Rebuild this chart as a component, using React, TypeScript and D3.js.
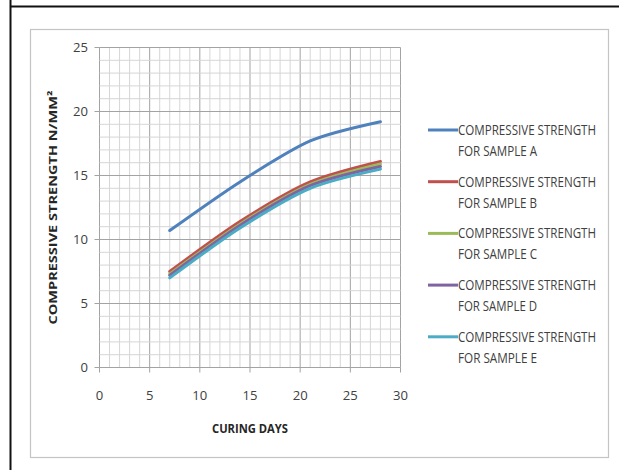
import React from 'react';
import * as d3 from 'd3';

const curingDays = [7, 14, 21, 28];
const sampleA = [10.7, 14.5, 17.7, 19.2];
const sampleB = [7.5, 11.4, 14.5, 16.1];
const sampleC = [7.3, 11.2, 14.3, 15.9];
const sampleD = [7.2, 11.1, 14.2, 15.7];
const sampleE = [7.0, 10.9, 14.0, 15.5];

const seriesNames = [
  'FOR SAMPLE A',
  'FOR SAMPLE B',
  'FOR SAMPLE C',
  'FOR SAMPLE D',
  'FOR SAMPLE E',
];
const seriesValues = [sampleA, sampleB, sampleC, sampleD, sampleE];
const seriesColors = ['#4f81bd', '#c0504d', '#9bbb59', '#8064a2', '#4bacc6'];

const xTicks = [0, 5, 10, 15, 20, 25, 30];
const yTicks = [0, 5, 10, 15, 20, 25];

const W = 619;
const H = 470;
const plot = { left: 99.5, right: 400.5, top: 47.5, bottom: 367.5 };
const tickFont = '"Open Sans", "DejaVu Sans", sans-serif';
const squeeze = 0.75; // narrow the legend glyphs horizontally

export default function App() {
  const x = d3.scaleLinear().domain([0, 30]).range([plot.left, plot.right]);
  const y = d3.scaleLinear().domain([0, 25]).range([plot.bottom, plot.top]);

  const line = d3
    .line<[number, number]>()
    .x((d) => x(d[0]))
    .y((d) => y(d[1]))
    .curve(d3.curveCardinal.tension(0.2));

  // minor grid every unit, major every 5
  const xMinor = d3.range(0, 31, 1);
  const yMinor = d3.range(0, 26, 1);

  return (
    <svg
      width={W}
      height={H}
      style={{ position: 'absolute', left: 0, top: 0, background: '#fff' }}
    >
      {/* page rules */}
      <line x1={10.5} x2={10.5} y1={0} y2={H} stroke="#111" strokeWidth={2} />
      <line x1={10} x2={W} y1={6.5} y2={6.5} stroke="#111" strokeWidth={2} />

      {/* chart frame */}
      <rect x={30.5} y={29.5} width={578} height={428} fill="#fff" stroke="#c4c4c4" strokeWidth={1.2} />

      {/* grid */}
      <g>
        {xMinor.map((v) => (
          <line
            key={'xm' + v}
            x1={x(v)}
            x2={x(v)}
            y1={plot.top}
            y2={plot.bottom}
            stroke={v % 5 === 0 ? '#a3a3a3' : '#d6d6d6'}
            strokeWidth={1}
          />
        ))}
        {yMinor.map((v) => (
          <line
            key={'ym' + v}
            x1={plot.left}
            x2={plot.right}
            y1={y(v)}
            y2={y(v)}
            stroke={v % 5 === 0 ? '#a3a3a3' : '#d6d6d6'}
            strokeWidth={1}
          />
        ))}
      </g>

      {/* tick marks */}
      {yTicks.map((v) => (
        <line key={'yt' + v} x1={plot.left - 5} x2={plot.left} y1={y(v)} y2={y(v)} stroke="#a3a3a3" />
      ))}
      {xTicks.map((v) => (
        <line key={'xt' + v} x1={x(v)} x2={x(v)} y1={plot.bottom} y2={plot.bottom + 5} stroke="#a3a3a3" />
      ))}

      {/* tick labels */}
      {yTicks.map((v) => (
        <text
          key={'yl' + v}
          x={88}
          y={y(v)}
          dy="0.35em"
          textAnchor="end"
          fontFamily={tickFont}
          fontSize={13.5}
          fill="#404040"
          textLength={String(v).length * 7.5}
          lengthAdjust="spacingAndGlyphs"
        >
          {v}
        </text>
      ))}
      {xTicks.map((v) => (
        <text
          key={'xl' + v}
          x={x(v)}
          y={395}
          dy="0.35em"
          textAnchor="middle"
          fontFamily={tickFont}
          fontSize={13.5}
          fill="#404040"
          textLength={String(v).length * 7.5}
          lengthAdjust="spacingAndGlyphs"
        >
          {v}
        </text>
      ))}

      {/* axis titles */}
      <text
        x={(plot.left + plot.right) / 2}
        y={428}
        dy="0.35em"
        textAnchor="middle"
        fontFamily={tickFont}
        fontWeight="bold"
        fontSize={13}
        fill="#262626"
        textLength={76}
        lengthAdjust="spacingAndGlyphs"
      >
        CURING DAYS
      </text>
      <text
        transform={`translate(53,${(plot.top + plot.bottom) / 2}) rotate(-90)`}
        dy="0.35em"
        textAnchor="middle"
        fontFamily={tickFont}
        fontWeight="bold"
        fontSize={11}
        fill="#262626"
        textLength={234}
        lengthAdjust="spacingAndGlyphs"
      >
        COMPRESSIVE STRENGTH N/MM²
      </text>

      {/* series */}
      {seriesValues.map((vals, i) => (
        <path
          key={'s' + i}
          d={line(curingDays.map((d, j) => [d, vals[j]] as [number, number])) || ''}
          fill="none"
          stroke={seriesColors[i]}
          strokeWidth={3}
          strokeLinecap="round"
        />
      ))}

      {/* legend */}
      {seriesNames.map((name, i) => {
        const ly = 130 + i * 51.7;
        return (
          <g key={'lg' + i}>
            <line x1={428} x2={458} y1={ly} y2={ly} stroke={seriesColors[i]} strokeWidth={3} />
            <g transform={`translate(458,${ly}) scale(${squeeze},1)`}>
              <text
                x={0}
                y={0}
                dy="0.35em"
                fontFamily={tickFont}
                fontSize={14}
                fill="#404040"
                textLength={138 / squeeze}
                lengthAdjust="spacingAndGlyphs"
              >
                COMPRESSIVE STRENGTH
              </text>
              <text
                x={0}
                y={21}
                dy="0.35em"
                fontFamily={tickFont}
                fontSize={14}
                fill="#404040"
                textLength={79 / squeeze}
                lengthAdjust="spacingAndGlyphs"
              >
                {name}
              </text>
            </g>
          </g>
        );
      })}
    </svg>
  );
}
